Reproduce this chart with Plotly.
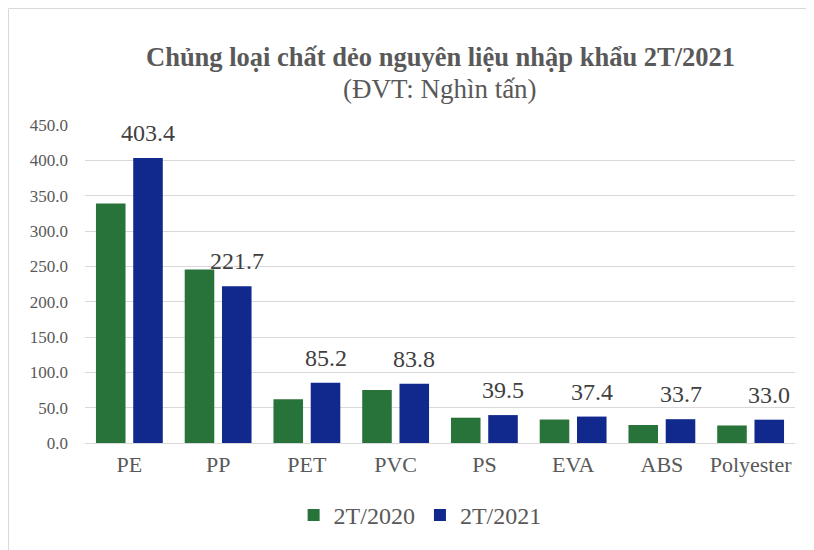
import plotly.graph_objects as go

categories = ["PE", "PP", "PET", "PVC", "PS", "EVA", "ABS", "Polyester"]
values_2020 = [339.0, 245.5, 62.0, 75.0, 35.8, 33.2, 25.5, 24.8]
values_2021 = [403.4, 221.7, 85.2, 83.8, 39.5, 37.4, 33.7, 33.0]
series_names = ["2T/2020", "2T/2021"]
title_line1 = "Chủng loại chất dẻo nguyên liệu nhập khẩu 2T/2021"
title_line2 = "(ĐVT: Nghìn tấn)"
y_ticks = [0, 50, 100, 150, 200, 250, 300, 350, 400, 450]

GREEN = "#287339"
BLUE = "#11298C"
FONT = "Liberation Serif, Times New Roman, serif"

BARGAP = 0.16
fig = go.Figure()
fig.add_trace(go.Bar(x=categories, y=values_2020, name=series_names[0],
                     marker=dict(color=GREEN, line=dict(width=0))))
fig.add_trace(go.Bar(x=categories, y=values_2021, name=series_names[1],
                     marker=dict(color=BLUE, line=dict(width=0))))

annotations = []
offset = (1 - BARGAP) / 4
for i, v in enumerate(values_2021):
    annotations.append(dict(x=i + offset, y=v, xref="x", yref="y", text=f"{v:.1f}",
                            showarrow=False, yanchor="bottom", yshift=10,
                            font=dict(family=FONT, size=24, color="#404040")))
annotations.append(dict(x=0.5, y=1.214, xref="paper", yref="paper", text=f"<b>{title_line1}</b>",
                        showarrow=False, xanchor="center", yanchor="middle",
                        font=dict(family=FONT, size=26.5, color="#595959")))
annotations.append(dict(x=0.5, y=1.113, xref="paper", yref="paper", text=title_line2,
                        showarrow=False, xanchor="center", yanchor="middle",
                        font=dict(family=FONT, size=27, color="#595959")))

fig.update_layout(
    width=814, height=550,
    margin=dict(l=77, r=27, t=117, b=115),
    paper_bgcolor="white", plot_bgcolor="white",
    barmode="group", bargap=BARGAP, bargroupgap=0.207,
    font=dict(family=FONT, color="#595959"),
    showlegend=True,
    legend=dict(orientation="h", x=0.472, y=-0.228, xanchor="center", yanchor="middle",
                font=dict(family=FONT, size=24, color="#595959"), itemwidth=30),
    annotations=annotations,
    shapes=[dict(type="rect", xref="paper", yref="paper", x0=-0.1077, x1=1.0373,
                 y0=-0.360, y1=1.3664, line=dict(color="#D9D9D9", width=1))],
)
fig.update_xaxes(showgrid=False, showline=True, linecolor="#D9D9D9", linewidth=1,
                 tickfont=dict(family=FONT, size=22, color="#595959"), ticks="",
                 ticklabelstandoff=2)
fig.update_yaxes(range=[0, 450], tickvals=y_ticks, tickformat=".1f",
                 showgrid=True, gridcolor="#D9D9D9", gridwidth=1, zeroline=False,
                 showline=False, tickfont=dict(family=FONT, size=17, color="#595959"),
                 ticks="", ticklabelstandoff=16)

fig.write_html("out.html")
